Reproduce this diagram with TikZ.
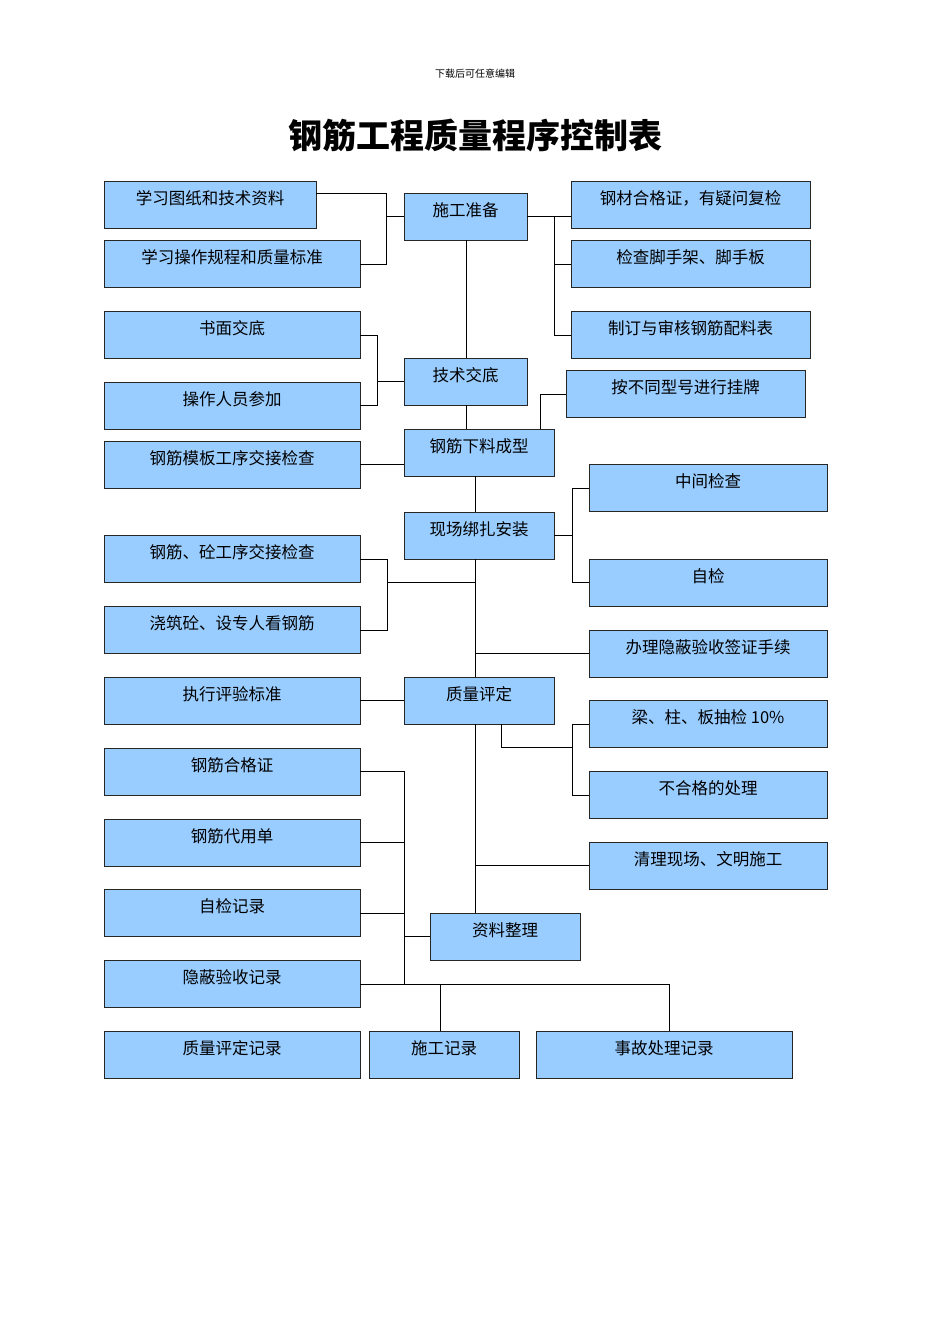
\documentclass[tikz,border=0pt]{standalone}
\usepackage{fontspec}
\setmainfont{Noto Sans CJK SC}
\usetikzlibrary{calc}
\definecolor{boxblue}{RGB}{153,204,255}
\tikzset{
 box/.style={draw=black!85,line width=0.9pt,fill=boxblue,inner sep=0pt,
   font=\fontsize{16.5}{18}\selectfont,text height=14pt,text depth=14pt},
 ln/.style={draw=black,line width=0.8pt}
}
\newcommand{\bx}[6]{\node[box,minimum width={#4-#2},minimum height={#5-#3}] (#1) at ({(#2+#4)/2},{(#3+#5)/2}) {#6};}
\begin{document}
\begin{tikzpicture}[x=1pt,y=-1pt]
\useasboundingbox (0,0) rectangle (950,1344);
\node (hdr) at (475,74) {\fontsize{10}{12}\selectfont 下载后可任意编辑};
\node (ttl) at (475,135) {\fontsize{34}{40}\selectfont\bfseries 钢筋工程质量程序控制表};
% left
\bx{l1}{104}{181}{316}{228}{学习图纸和技术资料}
\bx{l2}{104}{240}{360}{287}{学习操作规程和质量标准}
\bx{l3}{104}{311}{360}{358}{书面交底}
\bx{l4}{104}{382}{360}{429}{操作人员参加}
\bx{l5}{104}{441}{360}{488}{钢筋模板工序交接检查}
\bx{l6}{104}{535}{360}{582}{钢筋、砼工序交接检查}
\bx{l7}{104}{606}{360}{653}{浇筑砼、设专人看钢筋}
\bx{l8}{104}{677}{360}{724}{执行评验标准}
\bx{l9}{104}{748}{360}{795}{钢筋合格证}
\bx{l10}{104}{819}{360}{866}{钢筋代用单}
\bx{l11}{104}{889}{360}{936}{自检记录}
\bx{l12}{104}{960}{360}{1007}{隐蔽验收记录}
\bx{b1}{104}{1031}{360}{1078}{质量评定记录}
\bx{b2}{369}{1031}{519}{1078}{施工记录}
\bx{b3}{536}{1031}{792}{1078}{事故处理记录}
% center
\bx{c1}{404}{193}{527}{240}{施工准备}
\bx{c2}{404}{358}{527}{405}{技术交底}
\bx{c3}{404}{429}{554}{476}{钢筋下料成型}
\bx{c4}{404}{512}{554}{559}{现场绑扎安装}
\bx{c5}{404}{677}{554}{724}{质量评定}
\bx{c6}{430}{913}{580}{960}{资料整理}
% right
\bx{r1}{571}{181}{810}{228}{钢材合格证，有疑问复检}
\bx{r2}{571}{240}{810}{287}{检查脚手架、脚手板}
\bx{r3}{571}{311}{810}{358}{制订与审核钢筋配料表}
\bx{r4}{566}{370}{805}{417}{按不同型号进行挂牌}
\bx{r5}{589}{464}{827}{511}{中间检查}
\bx{r6}{589}{559}{827}{606}{自检}
\bx{r7}{589}{630}{827}{677}{办理隐蔽验收签证手续}
\bx{r8}{589}{700}{827}{747}{梁、柱、板抽检 10\%}
\bx{r9}{589}{771}{827}{818}{不合格的处理}
\bx{r10}{589}{842}{827}{889}{清理现场、文明施工}
% connectors
\path[ln] (l1.east|-0,193) -- (386,193) -- (386,264) -- (l2.east|-0,264);
\path[ln] (386,216) -- (c1.west|-0,216);
\path[ln] (c1.east|-0,216) -- (554,216);
\path[ln] (554,216) -- (554,335);
\path[ln] (554,216) -- (r1.west|-0,216);
\path[ln] (554,264) -- (r2.west|-0,264);
\path[ln] (554,335) -- (r3.west|-0,335);
\path[ln] (c1.south-|466,0) -- (c2.north-|466,0);
\path[ln] (l3.east|-0,335) -- (377,335) -- (377,405) -- (l4.east|-0,405);
\path[ln] (377,381) -- (c2.west|-0,381);
\path[ln] (c2.south-|466,0) -- (c3.north-|466,0);
\path[ln] (c3.north-|540,0) -- (540,394) -- (r4.west|-0,394);
\path[ln] (l5.east|-0,464) -- (c3.west|-0,464);
\path[ln] (c3.south-|475,0) -- (c4.north-|475,0);
\path[ln] (c4.south-|475,0) -- (c5.north-|475,0);
\path[ln] (c5.south-|475,0) -- (c6.north-|475,0);
\path[ln] (c4.east|-0,535) -- (572,535);
\path[ln] (r5.west|-0,488) -- (572,488) -- (572,582) -- (r6.west|-0,582);
\path[ln] (l6.east|-0,559) -- (387,559) -- (387,630) -- (l7.east|-0,630);
\path[ln] (387,582) -- (475,582);
\path[ln] (475,653) -- (r7.west|-0,653);
\path[ln] (l8.east|-0,700) -- (c5.west|-0,700);
\path[ln] (c5.south-|501,0) -- (501,747) -- (572,747);
\path[ln] (r8.west|-0,724) -- (572,724) -- (572,795) -- (r9.west|-0,795);
\path[ln] (475,865) -- (r10.west|-0,865);
\path[ln] (l9.east|-0,771) -- (404,771) -- (404,984);
\path[ln] (l10.east|-0,842) -- (404,842);
\path[ln] (l11.east|-0,913) -- (404,913);
\path[ln] (l12.east|-0,984) -- (669,984);
\path[ln] (404,936) -- (c6.west|-0,936);
\path[ln] (440,984) -- (b2.north-|440,0);
\path[ln] (669,984) -- (b3.north-|669,0);
\end{tikzpicture}
\end{document}
